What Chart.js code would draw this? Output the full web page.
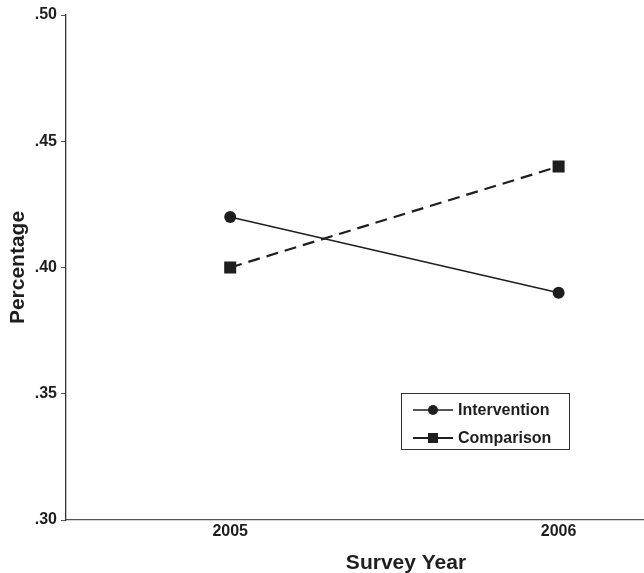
<!DOCTYPE html>
<html>
<head>
<meta charset="utf-8">
<script src="https://cdn.jsdelivr.net/npm/chart.js@4.4.1/dist/chart.umd.min.js"></script>
<style>
  html, body { margin: 0; padding: 0; background: #fff; }
  #wrap { width: 644px; height: 573px; }
</style>
</head>
<body>
<div id="wrap"><canvas id="chart"></canvas></div>
<script>
// Survey years and series values
const years = [2005, 2006];
const intervention = [0.42, 0.39];
const comparison = [0.40, 0.44];
const yTicks = [0.30, 0.35, 0.40, 0.45, 0.50];
const xTitle = 'Survey Year';

const INK = '#1e1e1e';
const FONT = "'Liberation Sans', Arial, sans-serif";

// Boxed legend with line + marker samples, and the x title which sits
// off-centre in the original figure
const boxLegend = {
    id: 'boxLegend',
    afterDraw(chart) {
        const ctx = chart.ctx;
        const x0 = 401, y0 = 393, w = 168, h = 56;
        ctx.save();
        ctx.strokeStyle = '#333';
        ctx.lineWidth = 1;
        ctx.strokeRect(x0 + 0.5, y0 + 0.5, w, h);
        chart.data.datasets.forEach((ds, i) => {
            const cy = y0 + 17 + i * 28;
            ctx.strokeStyle = ds.borderColor;
            ctx.lineWidth = ds.borderWidth;
            ctx.setLineDash([]);
            ctx.beginPath();
            ctx.moveTo(x0 + 12, cy);
            ctx.lineTo(x0 + 52, cy);
            ctx.stroke();
            ctx.fillStyle = ds.pointBackgroundColor;
            if (ds.pointStyle === 'rect') {
                ctx.fillRect(x0 + 27, cy - 5, 10, 10);
            } else {
                ctx.beginPath();
                ctx.arc(x0 + 32, cy, 5, 0, Math.PI * 2);
                ctx.fill();
            }
            ctx.fillStyle = INK;
            ctx.font = 'bold 16px ' + FONT;
            ctx.textBaseline = 'middle';
            ctx.textAlign = 'left';
            ctx.fillText(ds.label, x0 + 57, cy + 1);
        });

        ctx.fillStyle = INK;
        ctx.font = 'bold 21px ' + FONT;
        ctx.textAlign = 'center';
        ctx.textBaseline = 'middle';
        ctx.fillText(xTitle, 406, 563);
        ctx.restore();
    }
};

new Chart(document.getElementById('chart'), {
    type: 'line',
    data: {
        datasets: [
            {
                label: 'Intervention',
                data: years.map((y, i) => ({ x: y, y: intervention[i] })),
                borderColor: INK,
                borderWidth: 1.3,
                pointStyle: 'circle',
                pointRadius: 6,
                pointBorderWidth: 0,
                pointBackgroundColor: INK,
                pointBorderColor: INK,
                tension: 0
            },
            {
                label: 'Comparison',
                data: years.map((y, i) => ({ x: y, y: comparison[i] })),
                borderColor: INK,
                borderWidth: 2.2,
                borderDash: [12, 7],
                pointStyle: 'rect',
                pointRadius: 8.5,
                pointBorderWidth: 0,
                pointBackgroundColor: INK,
                pointBorderColor: INK,
                tension: 0
            }
        ]
    },
    options: {
        responsive: true,
        maintainAspectRatio: false,
        animation: false,
        layout: { autoPadding: false, padding: { top: 15, right: 0, bottom: 0, left: 0 } },
        plugins: {
            legend: { display: false },
            tooltip: { enabled: false }
        },
        scales: {
            x: {
                type: 'linear',
                min: 2004.5,
                max: 2006.26,
                afterBuildTicks: axis => { axis.ticks = years.map(v => ({ value: v })); },
                afterFit: axis => {
                    axis.height = 53;
                    axis.paddingLeft = 0;
                    axis.paddingRight = 0;
                },
                ticks: {
                    color: INK,
                    padding: 2,
                    font: { family: FONT, size: 16, weight: 'bold' },
                    callback: v => String(v)
                },
                grid: { display: false, drawTicks: false },
                border: { display: true, color: '#555', width: 1.3 },
                title: { display: false }
            },
            y: {
                min: 0.30,
                max: 0.50,
                afterBuildTicks: axis => { axis.ticks = yTicks.map(v => ({ value: v })); },
                afterFit: axis => {
                    axis.width = 66;
                    axis.paddingTop = 0;
                    axis.paddingBottom = 0;
                },
                ticks: {
                    color: INK,
                    padding: 4,
                    font: { family: FONT, size: 16, weight: 'bold' },
                    callback: v => v.toFixed(2).replace(/^0/, '')
                },
                grid: { display: true, drawOnChartArea: false, drawTicks: true, tickLength: 5, color: '#555' },
                border: { display: true, color: '#333', width: 1.3 },
                title: {
                    display: true,
                    text: 'Percentage',
                    color: INK,
                    padding: { top: 6, bottom: 6 },
                    font: { family: FONT, size: 21, weight: 'bold' }
                }
            }
        }
    },
    plugins: [boxLegend]
});
</script>
</body>
</html>
